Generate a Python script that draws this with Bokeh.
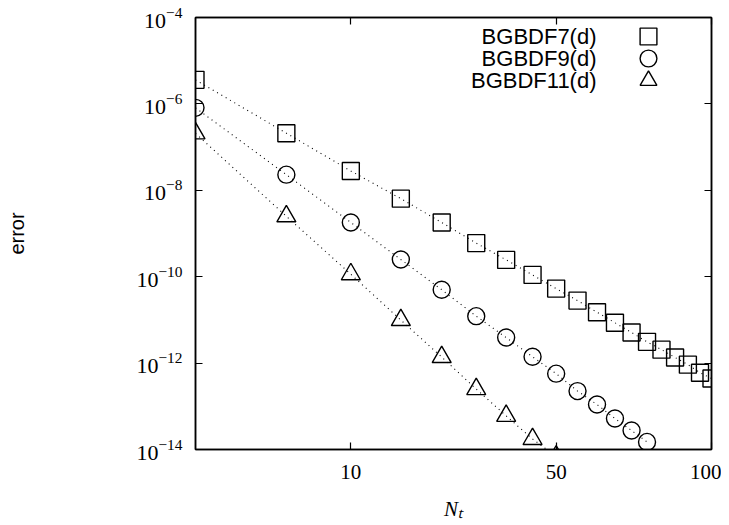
from bokeh.plotting import figure
from bokeh.models import (LogAxis, FixedTicker, Legend, LegendItem, Label,
                          CustomJSTickFormatter)
from bokeh.embed import file_html
from bokeh.resources import INLINE

# ---- data ----
nt_7 = [10, 15, 20, 25, 30, 35, 40, 45, 50, 55, 60, 65, 70, 75, 80, 85, 90, 95, 100]
err_7 = [3.6e-6, 2.1e-7, 2.8e-8, 6.4e-9, 1.8e-9, 6.0e-10, 2.45e-10, 1.1e-10, 5.3e-11,
         2.8e-11, 1.5e-11, 8.6e-12, 5.1e-12, 3.1e-12, 2.05e-12, 1.35e-12, 9.2e-13,
         6.0e-13, 4.4e-13]

nt_9 = [10, 15, 20, 25, 30, 35, 40, 45, 50, 55, 60, 65, 70, 75]
err_9 = [8.1e-7, 2.3e-8, 1.8e-9, 2.5e-10, 5.0e-11, 1.22e-11, 3.9e-12, 1.4e-12, 5.7e-13,
         2.25e-13, 1.1e-13, 5.2e-14, 2.75e-14, 1.5e-14]

nt_11 = [10, 15, 20, 25, 30, 35, 40, 45, 50]
err_11 = [2.08e-7, 2.5e-9, 1.14e-10, 9.9e-12, 1.38e-12, 2.5e-13, 6.0e-14, 1.75e-14, 6.9e-15]

series_labels = ["BGBDF7(d)", "BGBDF9(d)", "BGBDF11(d)"]
series_markers = ["square", "circle", "triangle"]

y_ticks = [1e-14, 1e-12, 1e-10, 1e-8, 1e-6, 1e-4]
x_ticks = [20, 50, 100]
x_tick_labels = ["10", "50", "100"]

x_title = "N\u209c"
y_title = "error"

SERIF = "Liberation Serif"
SANS = "Liberation Sans"

p = figure(width=721, height=525, x_axis_type="log", y_axis_type="log",
           x_range=(10, 100), y_range=(1e-14, 1e-4),
           output_backend="svg", toolbar_location=None,
           min_border_left=195, min_border_right=10, min_border_top=17,
           min_border_bottom=76)

p.grid.visible = False
p.outline_line_color = "black"
p.outline_line_width = 1.5
p.background_fill_color = "white"
p.border_fill_color = "white"

# bottom axis
xa = p.xaxis[0]
xa.ticker = FixedTicker(ticks=x_ticks, minor_ticks=[])
xa.major_label_overrides = {t: l for t, l in zip(x_ticks, x_tick_labels)}
xa.major_tick_in = 7
xa.major_tick_out = 0
xa.minor_tick_in = 0
xa.minor_tick_out = 0
xa.axis_line_width = 1.5
xa.axis_line_color = "black"
xa.major_tick_line_color = "black"
xa.major_tick_line_width = 1.2
xa.major_label_text_font = SERIF
xa.major_label_text_font_size = "21px"
xa.major_label_text_color = "black"
xa.major_label_standoff = 15
xa.axis_label = x_title
xa.axis_label_text_font = SERIF
xa.axis_label_text_font_style = "italic"
xa.axis_label_text_font_size = "21px"
xa.axis_label_text_color = "black"
xa.axis_label_standoff = 15

# left axis
ya = p.yaxis[0]
ya.ticker = FixedTicker(ticks=y_ticks, minor_ticks=[])
ya.major_tick_in = 7
ya.major_tick_out = 0
ya.minor_tick_in = 0
ya.minor_tick_out = 0
ya.axis_line_width = 1.5
ya.axis_line_color = "black"
ya.major_tick_line_color = "black"
ya.major_tick_line_width = 1.2
ya.major_label_text_font = SERIF
ya.major_label_text_font_size = "22px"
ya.major_label_text_color = "black"
ya.major_label_standoff = 13
ya.axis_label = y_title
ya.axis_label_text_font = SANS
ya.axis_label_text_font_style = "normal"
ya.axis_label_text_font_size = "20px"
ya.axis_label_text_color = "black"
ya.axis_label_standoff = 105

# mirror axes (ticks only, no labels)
blank = CustomJSTickFormatter(code="return ''")
top = LogAxis(ticker=FixedTicker(ticks=x_ticks, minor_ticks=[]), formatter=blank,
              major_tick_in=7, major_tick_out=0, minor_tick_in=0, minor_tick_out=0,
              major_label_standoff=0, axis_line_width=1.5, major_tick_line_width=1.2,
              axis_line_color="black", major_tick_line_color="black")
right = LogAxis(ticker=FixedTicker(ticks=y_ticks, minor_ticks=[]), formatter=blank,
                major_tick_in=7, major_tick_out=0, minor_tick_in=0, minor_tick_out=0,
                major_label_standoff=0, axis_line_width=1.5, major_tick_line_width=1.2,
                axis_line_color="black", major_tick_line_color="black")
p.add_layout(top, "above")
p.add_layout(right, "right")

# series
data = [(nt_7, err_7), (nt_9, err_9), (nt_11, err_11)]
sizes = [17, 17, 19]
scatters = []
for (xs, ys), mk, sz in zip(data, series_markers, sizes):
    p.line(xs, ys, line_color="black", line_width=1.1, line_dash="1 4")
    r = p.scatter(xs, ys, marker=mk, size=sz, fill_color=None,
                  line_color="black", line_width=1.4)
    scatters.append(r)

# key: text at left, symbol at right (like gnuplot)
text_x = 401
row_y = [413, 391, 369]
for lab, ry, r in zip(series_labels, row_y, scatters):
    p.add_layout(Label(x=text_x, y=ry, x_units="screen", y_units="screen",
                       text=lab, text_align="right", text_baseline="middle",
                       text_font=SANS, text_font_size="22px", text_color="black"))
    lg = Legend(items=[LegendItem(label=" ", renderers=[r])],
                location=(432, ry - 21), glyph_width=42, glyph_height=42,
                padding=0, margin=0, spacing=0, label_standoff=0,
                label_width=0, label_text_font_size="10px",
                border_line_color=None, background_fill_alpha=0)
    p.add_layout(lg, "center")

open("out.html", "w").write(file_html(p, INLINE))
